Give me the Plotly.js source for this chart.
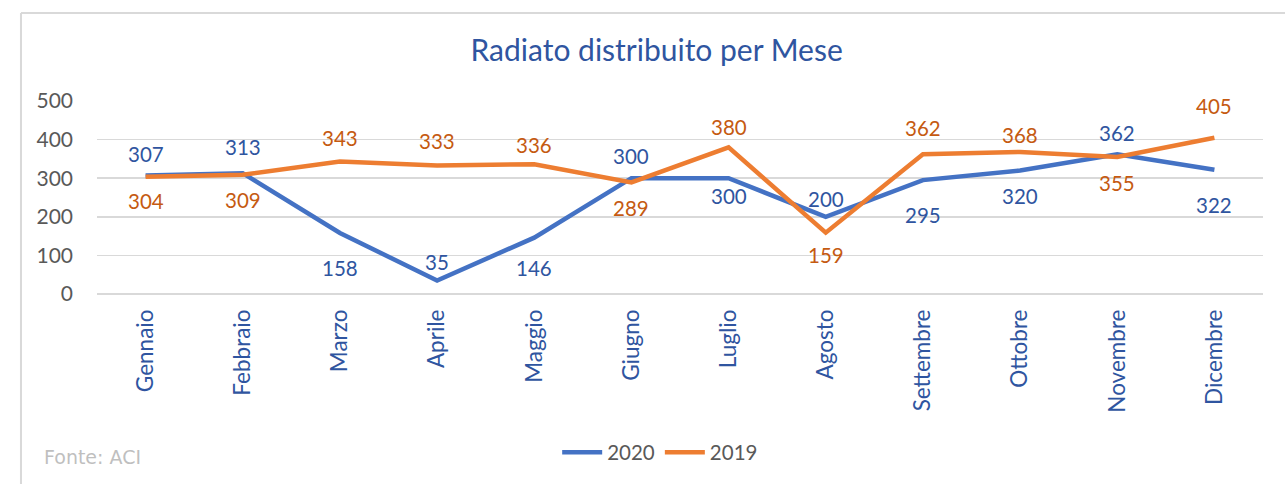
<!DOCTYPE html>
<html><head><meta charset="utf-8">
<script src="https://cdn.plot.ly/plotly-3.0.1.min.js"></script>
<style>html,body{margin:0;padding:0;background:#fff}#chart{width:1285px;height:484px}</style>
</head><body><div id="chart"></div>
<script>
const months = ["Gennaio","Febbraio","Marzo","Aprile","Maggio","Giugno","Luglio","Agosto","Settembre","Ottobre","Novembre","Dicembre"];
const values2020 = [307,313,158,35,146,300,300,200,295,320,362,322];
const values2019 = [304,309,343,333,336,289,380,159,362,368,355,405];
const yTicks = [0,100,200,300,400,500];
// label placement (pixel shift of each data label from its point; positive = up)
const labelShift2020 = [22,26,-35,18,-30,22,-18,18,-35,-26,21,-35];
const labelShift2019 = [-24,-25,24,24,19,-26,20,-22,26,17,-26,32];

const F = "Lato, 'Open Sans', sans-serif";
function trace(name, vals, color){
  return {type:'scatter', mode:'lines', name:name, x:months, y:vals,
    line:{color:color,width:4.5}, hoverinfo:'skip'};
}
function labels(vals, shifts, color){
  return vals.map((v,i)=>({x:months[i], y:v, xref:'x', yref:'y', text:String(v), showarrow:false,
    yshift:shifts[i], xanchor:'center', yanchor:'middle', font:{family:F,size:20.5,color:color}}));
}
const data = [
  trace('2020', values2020, '#4472C4'),
  trace('2019', values2019, '#ED7D31')
];
const layout = {
  width:1285, height:484,
  margin:{l:97,r:22,t:101,b:190},
  paper_bgcolor:'#fff', plot_bgcolor:'#fff',
  showlegend:true,
  title:{text:'Radiato distribuito per Mese', font:{family:F,size:30,color:'#2F55A0'}, x:0.511, xanchor:'center', y:0.895, yanchor:'middle'},
  xaxis:{type:'category', range:[-0.5,11.5], tickangle:-90, showgrid:false, zeroline:false, showline:false, ticks:'',
    tickfont:{family:F,size:22.5,color:'#2F55A0'}, ticklabelstandoff:10, fixedrange:true},
  yaxis:{range:[0,500], tickvals:yTicks, showgrid:true, gridcolor:'#D9D9D9', gridwidth:1.5, zeroline:true, zerolinecolor:'#D9D9D9', zerolinewidth:1.5,
    tickfont:{family:F,size:21,color:'#595959'}, ticklabelstandoff:23, showline:false, ticks:'', fixedrange:true},
  legend:{orientation:'h', xref:'paper', x:0.483, xanchor:'center', yref:'container', y:0.065, yanchor:'middle',
    font:{family:F,size:20.5,color:'#595959'}, itemwidth:40, traceorder:'normal'},
  shapes:[
    {type:'line', xref:'paper', yref:'paper', x0:-0.0652, x1:1.03, y0:(484-190-13)/193, y1:(484-190-13)/193, line:{color:'#D9D9D9',width:2}},
    {type:'line', xref:'paper', yref:'paper', x0:-0.0652, x1:-0.0652, y0:-1.0, y1:(484-190-13)/193, line:{color:'#D9D9D9',width:2}}
  ],
  annotations:[
    ...labels(values2020, labelShift2020, '#2F55A0'),
    ...labels(values2019, labelShift2019, '#C55A11'),
    {text:'Fonte: ACI', xref:'paper', yref:'paper', x:(42-97)/1166, xanchor:'left', y:(294-457)/193, yanchor:'middle', showarrow:false,
     font:{family:"'DejaVu Sans', sans-serif", size:19, color:'#BFBFBF'}}
  ]
};
Plotly.newPlot('chart', data, layout, {displayModeBar:false, staticPlot:true});
</script></body></html>
